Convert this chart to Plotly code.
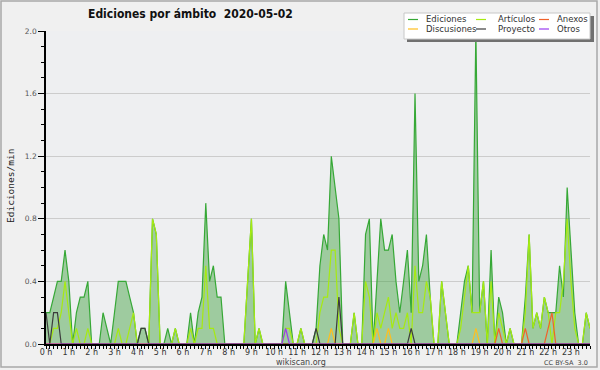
import plotly.graph_objects as go

# ---- data: one value per 10-minute slot, 144 slots (00:00 .. 23:50) ----
minutes = list(range(0, 1440, 10))

ediciones = [
    0.2, 0.2, 0.3, 0.4, 0.4, 0.6,   0.4, 0.0, 0.2, 0.3, 0.3, 0.4,
    0.0, 0.0, 0.0, 0.2, 0.1, 0.0,   0.2, 0.4, 0.4, 0.4, 0.3, 0.2,
    0.0, 0.1, 0.1, 0.0, 0.8, 0.7,   0.0, 0.0, 0.1, 0.0, 0.1, 0.0,
    0.0, 0.0, 0.2, 0.0, 0.2, 0.3,   0.9, 0.4, 0.5, 0.3, 0.3, 0.0,
    0.0, 0.0, 0.0, 0.0, 0.0, 0.4,   0.8, 0.0, 0.1, 0.0, 0.0, 0.0,
    0.0, 0.0, 0.0, 0.4, 0.2, 0.0,   0.0, 0.1, 0.0, 0.0, 0.0, 0.1,
    0.5, 0.7, 0.6, 1.2, 1.0, 0.8,   0.0, 0.0, 0.0, 0.2, 0.0, 0.0,
    0.7, 0.8, 0.0, 0.4, 0.8, 0.6,   0.6, 0.7, 0.4, 0.2, 0.4, 0.6,
    0.2, 1.6, 0.4, 0.5, 0.7, 0.3,   0.0, 0.0, 0.4, 0.2, 0.0, 0.0,
    0.0, 0.2, 0.4, 0.5, 0.2, 2.0,   0.2, 0.4, 0.0, 0.6, 0.0, 0.3,
    0.2, 0.0, 0.1, 0.0, 0.0, 0.0,   0.3, 0.7, 0.1, 0.2, 0.1, 0.3,
    0.2, 0.2, 0.2, 0.5, 0.3, 1.0,   0.6, 0.2, 0.0, 0.0, 0.2, 0.1,
]

articulos = [
    0.0, 0.0, 0.1, 0.1, 0.2, 0.4,   0.2, 0.0, 0.1, 0.0, 0.0, 0.1,
    0.0, 0.0, 0.0, 0.0, 0.0, 0.0,   0.0, 0.1, 0.0, 0.0, 0.1, 0.2,
    0.0, 0.0, 0.0, 0.0, 0.8, 0.7,   0.0, 0.0, 0.0, 0.0, 0.1, 0.0,
    0.0, 0.0, 0.1, 0.0, 0.1, 0.1,   0.5, 0.1, 0.1, 0.0, 0.0, 0.0,
    0.0, 0.0, 0.0, 0.0, 0.0, 0.4,   0.8, 0.0, 0.1, 0.0, 0.0, 0.0,
    0.0, 0.0, 0.0, 0.1, 0.1, 0.0,   0.0, 0.1, 0.0, 0.0, 0.0, 0.0,
    0.2, 0.3, 0.3, 0.6, 0.6, 0.1,   0.0, 0.0, 0.0, 0.2, 0.0, 0.0,
    0.4, 0.3, 0.0, 0.2, 0.1, 0.2,   0.3, 0.1, 0.2, 0.1, 0.1, 0.2,
    0.0, 0.5, 0.2, 0.2, 0.4, 0.3,   0.0, 0.0, 0.4, 0.2, 0.0, 0.0,
    0.0, 0.1, 0.3, 0.5, 0.2, 0.2,   0.2, 0.4, 0.0, 0.4, 0.0, 0.2,
    0.1, 0.0, 0.1, 0.0, 0.0, 0.0,   0.2, 0.7, 0.1, 0.2, 0.1, 0.3,
    0.2, 0.0, 0.2, 0.2, 0.4, 0.8,   0.4, 0.1, 0.0, 0.0, 0.2, 0.1,
]

discusiones = [0.0] * 144
for i, v in [(75, 0.1), (87, 0.1), (90, 0.1), (113, 0.1)]:
    discusiones[i] = v

proyecto = [0.0] * 144
for i, v in [(0, 0.2), (2, 0.2), (3, 0.2), (25, 0.1), (26, 0.1),
             (71, 0.1), (77, 0.3), (96, 0.1)]:
    proyecto[i] = v

anexos = [0.0] * 144
for i, v in [(119, 0.1), (126, 0.1), (132, 0.1), (133, 0.2)]:
    anexos[i] = v

otros = [0.0] * 144
for i, v in [(63, 0.1)]:
    otros[i] = v

colors = {
    "Ediciones": "#36a836",
    "Artículos": "#a6ea12",
    "Anexos": "#f0622a",
    "Discusiones": "#ffbe1e",
    "Proyecto": "#3c3c3c",
    "Otros": "#9a3cf0",
}

x = [m / 60 for m in minutes]

fig = go.Figure()
fig.add_trace(go.Scatter(x=x, y=ediciones, mode="lines", name="Ediciones",
                         line=dict(color=colors["Ediciones"], width=1.2),
                         fill="tozeroy", fillcolor="rgba(60,160,60,0.45)",
                         showlegend=False))
for name, ys in [("Artículos", articulos), ("Discusiones", discusiones),
                 ("Anexos", anexos), ("Proyecto", proyecto), ("Otros", otros)]:
    fig.add_trace(go.Scatter(x=x, y=ys, mode="lines", name=name,
                             line=dict(color=colors[name], width=1.2),
                             showlegend=False))

# ---- layout geometry helpers (pixel -> paper) ----
L, R, T, B, W, H = 46, 10, 31, 26, 600, 370
PW, PH = W - L - R, H - T - B
def px(xp):
    return (xp - L) / PW
def py(yp):
    return (H - B - yp) / PH

shapes = []
annotations = []

# outer frame
shapes.append(dict(type="rect", xref="paper", yref="paper",
                   x0=px(1), x1=px(597), y0=py(367), y1=py(1),
                   line=dict(color="#a8a8a8", width=1.5), layer="below"))

# legend box with shadow
shapes.append(dict(type="rect", xref="paper", yref="paper",
                   x0=px(407), x1=px(594), y0=py(42), y1=py(16),
                   fillcolor="#707070", line=dict(width=0)))
shapes.append(dict(type="rect", xref="paper", yref="paper",
                   x0=px(404), x1=px(590), y0=py(39), y1=py(13),
                   fillcolor="#ffffff", line=dict(color="#c8c8c8", width=1)))

leg_layout = [
    ("Ediciones", 408, 424, 19.5), ("Artículos", 476, 496, 19.5), ("Anexos", 539, 555, 19.5),
    ("Discusiones", 408, 424, 29), ("Proyecto", 476, 496, 29), ("Otros", 539, 555, 29),
]
for name, lx, tx, ly in leg_layout:
    shapes.append(dict(type="line", xref="paper", yref="paper",
                       x0=px(lx), x1=px(lx + 10), y0=py(ly), y1=py(ly),
                       line=dict(color=colors[name], width=1.2)))
    annotations.append(dict(text=name, xref="paper", yref="paper",
                            x=px(tx), y=py(ly), xanchor="left", yanchor="middle",
                            showarrow=False,
                            font=dict(family="DejaVu Sans", size=8.5, color="#333333")))

# title
annotations.append(dict(text="Ediciones por ámbito  2020-05-02", xref="paper", yref="paper",
                        x=px(86), y=py(14), xanchor="left", yanchor="middle", showarrow=False,
                        font=dict(family="DejaVu Sans Condensed, DejaVu Sans", size=12,
                                  color="#111111", weight="bold")))
# y axis title
annotations.append(dict(text="Ediciones/min", xref="paper", yref="paper",
                        x=px(10), y=py(186), xanchor="center", yanchor="middle",
                        textangle=-90, showarrow=False,
                        font=dict(family="DejaVu Sans Mono", size=9.5, color="#222222")))
# footer
annotations.append(dict(text="wikiscan.org", xref="paper", yref="paper",
                        x=px(301), y=py(362), xanchor="center", yanchor="middle",
                        showarrow=False,
                        font=dict(family="DejaVu Sans", size=8, color="#444444")))
annotations.append(dict(text="CC BY-SA  3.0", xref="paper", yref="paper",
                        x=px(590), y=py(363), xanchor="right", yanchor="middle",
                        showarrow=False,
                        font=dict(family="DejaVu Sans", size=6.5, color="#444444")))

fig.update_layout(
    width=W, height=H,
    margin=dict(l=L, r=R, t=T, b=B, pad=0),
    paper_bgcolor="#f0f0f0",
    plot_bgcolor="#eeeff1",
    showlegend=False,
    shapes=shapes,
    annotations=annotations,
    xaxis=dict(range=[0, 143 / 6], tick0=0, dtick=1, ticksuffix=" h",
               showgrid=False, zeroline=False,
               showline=True, linecolor="#000000", linewidth=1.5,
               ticks="outside", ticklen=3, tickcolor="#000000", tickwidth=1,
               ticklabelstandoff=-3,
               tickfont=dict(family="DejaVu Sans", size=8, color="#333333"),
               minor=dict(dtick=1 / 6, tick0=0, ticks="outside", ticklen=3,
                          tickcolor="#000000", tickwidth=1, showgrid=False),
               fixedrange=True),
    yaxis=dict(range=[0, 2.0], tick0=0, dtick=0.4, tickformat=".1f",
               showgrid=True, gridcolor="#cccccc", gridwidth=1, zeroline=False,
               showline=True, linecolor="#000000", linewidth=1.5,
               ticks="outside", ticklen=6, tickcolor="#000000", tickwidth=1,
               tickfont=dict(family="DejaVu Sans", size=7.5, color="#555555"),
               minor=dict(dtick=0.1, tick0=0, ticks="outside", ticklen=3,
                          tickcolor="#000000", tickwidth=1, showgrid=False),
               fixedrange=True),
)

fig.write_html("out.html", config={"displayModeBar": False},
               post_script="document.body.style.margin='0';document.body.style.padding='0';")
